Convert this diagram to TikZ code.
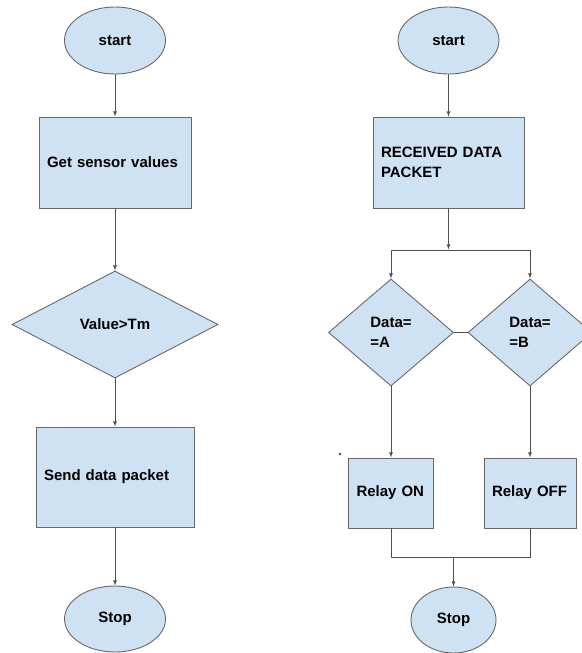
\documentclass[tikz,border=0pt]{standalone}
\usepackage{fontspec}
\setmainfont{Liberation Sans}
\usetikzlibrary{arrows,shapes.geometric}

\definecolor{riempi}{RGB}{207,226,243}
\definecolor{bordo}{RGB}{105,105,105}
\definecolor{linea}{RGB}{80,80,80}

\tikzset{
  base/.style={draw=bordo, fill=riempi, line width=0.9pt, font=\fontsize{15}{19.5}\selectfont\bfseries},
  inizio/.style={base, ellipse, inner sep=0pt},
  blocco/.style={base, rectangle, align=left, inner sep=8pt},
  scelta/.style={base, diamond, align=left, inner sep=0pt},
  freccia/.style={-latex, draw=linea, line width=0.8pt},
  linea/.style={draw=linea, line width=0.8pt}
}

\begin{document}
\begin{tikzpicture}[x=1pt, y=-1pt]

\useasboundingbox (0,0) rectangle (581,653);

% primo diagramma
% Nodi
\node[inizio, minimum width=101pt, minimum height=67pt] (start1) at (115,40.5) {start};
\node[blocco, text width=136pt, minimum height=91pt] (get) at (115,162.5) {Get sensor values};
\node[scelta, minimum width=206pt, minimum height=107pt] (cond) at (115,324.5) {Value>Tm};
\node[blocco, text width=142pt, minimum height=100pt] (send) at (115,477) {Send data packet};
\node[inizio, minimum width=101pt, minimum height=66pt] (stop1) at (115,619) {Stop\hspace{21pt}};

% Frecce
\draw[freccia] (start1) -- (get);
\draw[freccia] (get) -- (cond);
\draw[freccia] (cond) -- (send);
\draw[freccia] (send) -- (stop1);

% secondo diagramma
% Nodi
\node[inizio, minimum width=101pt, minimum height=67pt] (start2) at (448.5,40.5) {start};
\node[blocco, text width=135pt, minimum height=91pt] (recv) at (448.5,162.5) {RECEIVED DATA PACKET};
\node[scelta, minimum width=125pt, minimum height=107pt] (dataA) at (391,332.5) {Data=\\=A};
\node[scelta, minimum width=124pt, minimum height=107pt] (dataB) at (530,332.5) {Data=\\=B};
\node[blocco, text width=69pt, minimum height=70pt] (relayon) at (391,493) {Relay ON};
\node[blocco, text width=76pt, minimum height=70pt] (relayoff) at (530,493) {Relay OFF};
\node[inizio, minimum width=85pt, minimum height=66pt] (stop2) at (453.5,620) {Stop\hspace{10pt}};

% Punti di giunzione
\coordinate (giunto) at (448.5,249.5);
\coordinate (splitA) at (391,250);
\coordinate (splitB) at (530,250);
\coordinate (unisciA) at (391,557);
\coordinate (unisciB) at (530,557);
\coordinate (uscita) at (453.5,557);

% Frecce
\draw[freccia] (start2) -- (recv);
\draw[freccia] (recv) -- (giunto);
\draw[linea] (splitA) -- (splitB);
\draw[freccia] (splitA) -- (dataA.north);
\draw[freccia] (splitB) -- (dataB.north);
\draw[linea] (dataA.east) -- (dataB.west);
\draw[freccia] (dataA) -- (relayon);
\draw[freccia] (dataB) -- (relayoff);
\draw[linea] (relayon.south) -- (unisciA) -- (unisciB) -- (relayoff.south);
\draw[freccia] (uscita) -- (stop2);

% punto
\fill[linea] (340,454) circle (0.8pt);

\end{tikzpicture}
\end{document}
